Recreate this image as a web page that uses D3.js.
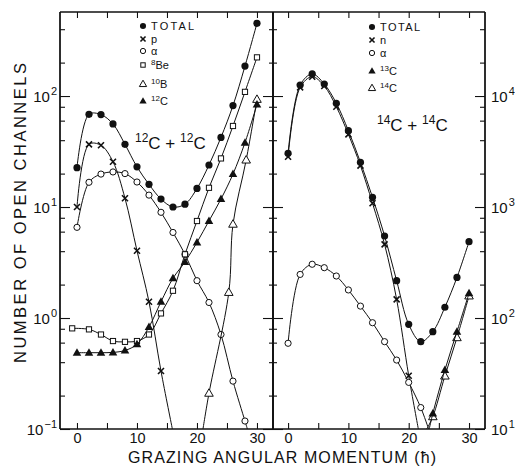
<!DOCTYPE html>
<html>
<head>
<meta charset="utf-8">
<script src="https://cdn.jsdelivr.net/npm/d3@7"></script>
<style>
  body { margin: 0; background: white; }
  svg { font-family: "Liberation Sans", Arial, sans-serif; }
</style>
</head>
<body>
<svg id="chart"></svg>
<script>
// 12C + 12C panel, [L, open channels]
const c12Total = [[0,22.6],[2,68.4],[4,68],[6,56],[8,36.7],[10,23],[12,16],[14,11.8],[16,10],[18,10.6],[20,14.7],[22,23.9],[24,42.4],[26,82],[28,186],[30,452]];
const c12P = [[0,10],[2,36.7],[4,36],[6,25.6],[8,12],[10,4.04],[12,1.4],[14,0.333],[15.9,0.1]];
const c12Alpha = [[0,6.56],[2,16.7],[4,19.8],[6,20.7],[8,20],[10,16.8],[12,12.8],[14,8.96],[16,5.9],[18,3.75],[20,2.17],[22,1.38],[24,0.71],[26,0.27],[28,0.118],[28.4,0.1]];
const c12Be8 = [[-0.8,0.807],[2,0.79],[4,0.71],[6,0.62],[8,0.61],[10,0.62],[12,0.71],[14,1.1],[16,1.76],[18,3.75],[20,7.48],[22,14.9],[24,27.4],[26,53.7],[28,109],[30,223]];
const c12B10 = [[21,0.1],[22,0.21],[25.3,1.7],[26,7],[28.2,26.5],[30,93.3]];
const c12C12 = [[0,0.487],[2,0.487],[4,0.487],[6,0.49],[8,0.51],[10,0.58],[12,0.83],[14,1.4],[16,2.28],[18,3.2],[20,4.8],[22,7.5],[24,11.8],[26,19.8],[28,38],[30,84]];

// 14C + 14C panel
const c14Total = [[0,3047],[2,12560],[4,15800],[6,12830],[8,8600],[10,4870],[12,2527],[14,1222],[16,548],[18,217],[20,87.7],[22,61.2],[24,75.3],[26,125],[28,232],[30,487]];
const c14N = [[0,2840],[2,11970],[4,14930],[6,12300],[8,8010],[10,4517],[12,2357],[14,1080],[16,461],[18,147],[20,30.2],[21.6,10]];
const c14Alpha = [[0,59.2],[2,247],[4,305],[6,284],[8,239],[10,179],[12,128],[14,90.7],[16,61.2],[18,41.8],[20,26.3],[22,15.6],[23.3,10]];
const c14C13 = [[23.4,10],[24,13.8],[26,34],[28,75.3],[30,167]];
const c14C14 = [[23,10],[24,12.9],[26,30],[28,66.5],[30,158]];

const xTicks = [0, 5, 10, 15, 20, 25, 30];
const xLabels = [0, 10, 20, 30];
const leftDecades = [-1, 0, 1, 2];
const rightDecades = [1, 2, 3, 4];
const minorMult = [2, 4, 6, 8];

const W = 515, H = 472;
const yTop = 12, yBot = 429;
const xL0 = 60, xMid = 273, xR1 = 485;

const svg = d3.select("#chart").attr("width", W).attr("height", H);
svg.append("rect").attr("width", W).attr("height", H).attr("fill", "white");

const xLeft = d3.scaleLinear().domain([-2.83, 32.67]).range([xL0, xMid]);
const xRight = d3.scaleLinear().domain([-2.5, 32.65]).range([xMid, xR1]);
const yLeft = d3.scaleLog().domain([0.1, Math.pow(10, 2.757)]).range([yBot, yTop]);
const yRight = d3.scaleLog().domain([10, Math.pow(10, 4.757)]).range([yBot, yTop]);

//minor ticks at 2,4,6,8 of each decade that fit in the axis
function minorTicks(decades, y) {
    const out = [];
    decades.forEach(d => minorMult.forEach(m => {
        const v = m * Math.pow(10, d);
        if (v < y.domain()[1]) out.push(v);
    }));
    return out;
}

function styleAxis(g) {
    g.select(".domain").attr("stroke", "#111").attr("stroke-width", 1.3);
    g.selectAll(".tick line").attr("stroke", "#111").attr("stroke-width", 1.1);
}

// frame + x axes for a panel
function drawFrame(x, x0, x1) {
    svg.append("g").attr("transform", `translate(0,${yBot})`)
        .call(d3.axisBottom(x).tickValues(xTicks).tickSize(-6).tickPadding(4)
            .tickFormat(d => xLabels.includes(d) ? d : ""))
        .call(styleAxis)
        .call(g => g.select(".domain").attr("d", `M${x0},0H${x1}`))
        .call(g => g.selectAll("text").attr("font-size", 14.5).attr("fill", "#111")
            .attr("font-family", "Liberation Sans, Arial, sans-serif"));
    svg.append("g").attr("transform", `translate(0,${yTop})`)
        .call(d3.axisTop(x).tickValues(xTicks).tickSize(-6).tickFormat(""))
        .call(styleAxis)
        .call(g => g.select(".domain").attr("d", `M${x0},0H${x1}`));
}
drawFrame(xLeft, xL0, xMid);
drawFrame(xRight, xMid, xR1);

// y axes
const majL = leftDecades.map(d => Math.pow(10, d));
const minL = minorTicks(leftDecades, yLeft);
const majR = rightDecades.map(d => Math.pow(10, d));
const minR = minorTicks(rightDecades, yRight);

function yAxis(xpos, axisFn, y, size, vals) {
    svg.append("g").attr("transform", `translate(${xpos},0)`)
        .call(axisFn(y).tickValues(vals).tickSize(size).tickFormat(""))
        .call(styleAxis)
        .call(g => g.select(".domain").attr("d", `M0,${yTop}V${yBot}`));
}
yAxis(xL0, d3.axisLeft, yLeft, -10, majL);
yAxis(xL0, d3.axisLeft, yLeft, -5, minL);
yAxis(xMid, d3.axisLeft, yLeft, 10, majL);
yAxis(xMid, d3.axisRight, yLeft, 10, majL);
yAxis(xMid, d3.axisLeft, yLeft, 4, minL);
yAxis(xMid, d3.axisRight, yLeft, 4, minL);
yAxis(xR1, d3.axisRight, yRight, -10, majR);
yAxis(xR1, d3.axisRight, yRight, -5, minR);

// decade labels
function powLabel(xp, yp, exp, anchor) {
    const t = svg.append("text").attr("x", xp).attr("y", yp + 6)
        .attr("text-anchor", anchor).attr("font-size", 15).attr("fill", "#111");
    t.append("tspan").text("10");
    t.append("tspan").attr("dy", -7).attr("font-size", 11).attr("dx", 1).text(exp);
}
leftDecades.forEach(d => powLabel(57, yLeft(Math.pow(10, d)), d === -1 ? "\u22121" : d, "end"));
rightDecades.forEach(d => powLabel(491, yRight(Math.pow(10, d)), d, "start"));

// curves and markers
const markerFns = {
    dot: (g, px, py, s = 1) => g.append("circle").attr("cx", px).attr("cy", py).attr("r", 3.6 * s).attr("fill", "#111"),
    circle: (g, px, py, s = 1) => g.append("circle").attr("cx", px).attr("cy", py).attr("r", 3.1 * s).attr("fill", "white").attr("stroke", "#111").attr("stroke-width", 1),
    square: (g, px, py, s = 1) => g.append("rect").attr("x", px - 2.6 * s).attr("y", py - 2.6 * s).attr("width", 5.2 * s).attr("height", 5.2 * s).attr("fill", "white").attr("stroke", "#111").attr("stroke-width", 1),
    cross: (g, px, py, s = 1) => g.append("path").attr("d", `M${px-3*s},${py-3*s}L${px+3*s},${py+3*s}M${px-3*s},${py+3*s}L${px+3*s},${py-3*s}`).attr("stroke", "#111").attr("stroke-width", 1.6),
    tri: (g, px, py, s = 1) => g.append("path").attr("d", `M${px},${py-4.5*s}L${px+4.3*s},${py+3*s}L${px-4.3*s},${py+3*s}Z`).attr("fill", "#111"),
    otri: (g, px, py, s = 1) => g.append("path").attr("d", `M${px},${py-4.5*s}L${px+4.3*s},${py+3*s}L${px-4.3*s},${py+3*s}Z`).attr("fill", "white").attr("stroke", "#111").attr("stroke-width", 1)
};

function clip(id, x0, x1) {
    svg.append("clipPath").attr("id", id).append("rect")
        .attr("x", x0).attr("y", yTop).attr("width", x1 - x0).attr("height", yBot - yTop);
}
clip("clipL", xL0, xMid);
clip("clipR", xMid, xR1);

function series(data, x, y, marker, clipId) {
    const line = d3.line().x(d => x(d[0])).y(d => y(d[1])).curve(d3.curveCatmullRom.alpha(0.5));
    svg.append("path").datum(data).attr("d", line).attr("fill", "none")
        .attr("stroke", "#111").attr("stroke-width", 1)
        .attr("clip-path", `url(#${clipId})`);
    const g = svg.append("g");
    data.filter(d => d[1] > y.domain()[0] * 1.0001).forEach(d => markerFns[marker](g, x(d[0]), y(d[1])));
}

series(c12P, xLeft, yLeft, "cross", "clipL");
series(c12Alpha, xLeft, yLeft, "circle", "clipL");
series(c12Be8, xLeft, yLeft, "square", "clipL");
series(c12B10, xLeft, yLeft, "otri", "clipL");
series(c12C12, xLeft, yLeft, "tri", "clipL");
series(c12Total, xLeft, yLeft, "dot", "clipL");

series(c14N, xRight, yRight, "cross", "clipR");
series(c14Alpha, xRight, yRight, "circle", "clipR");
series(c14C14, xRight, yRight, "otri", "clipR");
series(c14C13, xRight, yRight, "tri", "clipR");
series(c14Total, xRight, yRight, "dot", "clipR");

// legends
function legend(x0, rows) {
    const g = svg.append("g");
    rows.forEach(r => {
        markerFns[r.m](g, x0, r.y, 0.85);
        const t = g.append("text").attr("x", x0 + 8).attr("y", r.y + 4)
            .attr("font-size", 11).attr("fill", "#111").attr("letter-spacing", r.ls || 0);
        if (r.sup) {
            t.append("tspan").attr("font-size", 8).attr("dy", -4.5).text(r.sup);
            t.append("tspan").attr("dy", 4.5).text(r.t);
        } else {
            t.text(r.t);
        }
    });
}
legend(143, [
    { m: "dot", y: 26, t: "TOTAL", ls: 2.2 },
    { m: "cross", y: 39, t: "p" },
    { m: "circle", y: 51, t: "\u03b1" },
    { m: "square", y: 65, t: "Be", sup: "8" },
    { m: "otri", y: 84, t: "B", sup: "10" },
    { m: "tri", y: 101, t: "C", sup: "12" }
]);
legend(372, [
    { m: "dot", y: 27, t: "TOTAL", ls: 1.4 },
    { m: "cross", y: 40, t: "n" },
    { m: "circle", y: 53, t: "\u03b1" },
    { m: "tri", y: 71, t: "C", sup: "13" },
    { m: "otri", y: 88, t: "C", sup: "14" }
]);

// reaction labels
function reaction(xp, yp, a) {
    const t = svg.append("text").attr("x", xp).attr("y", yp).attr("font-size", 17).attr("fill", "#111");
    t.append("tspan").attr("font-size", 12).attr("dy", -7).text(a);
    t.append("tspan").attr("dy", 7).text("C + ");
    t.append("tspan").attr("font-size", 12).attr("dy", -7).text(a);
    t.append("tspan").attr("dy", 7).text("C");
}
reaction(135, 149, "12");
reaction(377, 131, "14");

// axis titles
svg.append("text").attr("x", 282).attr("y", 463).attr("text-anchor", "middle")
    .attr("font-size", 16).attr("fill", "#111")
    .attr("textLength", 308).attr("lengthAdjust", "spacing")
    .text("GRAZING  ANGULAR  MOMENTUM (\u0127)");
svg.append("text").attr("transform", "translate(26,213) rotate(-90)").attr("text-anchor", "middle")
    .attr("font-size", 16.5).attr("fill", "#111")
    .attr("textLength", 300).attr("lengthAdjust", "spacing")
    .text("NUMBER  OF  OPEN  CHANNELS");
</script>
</body>
</html>
